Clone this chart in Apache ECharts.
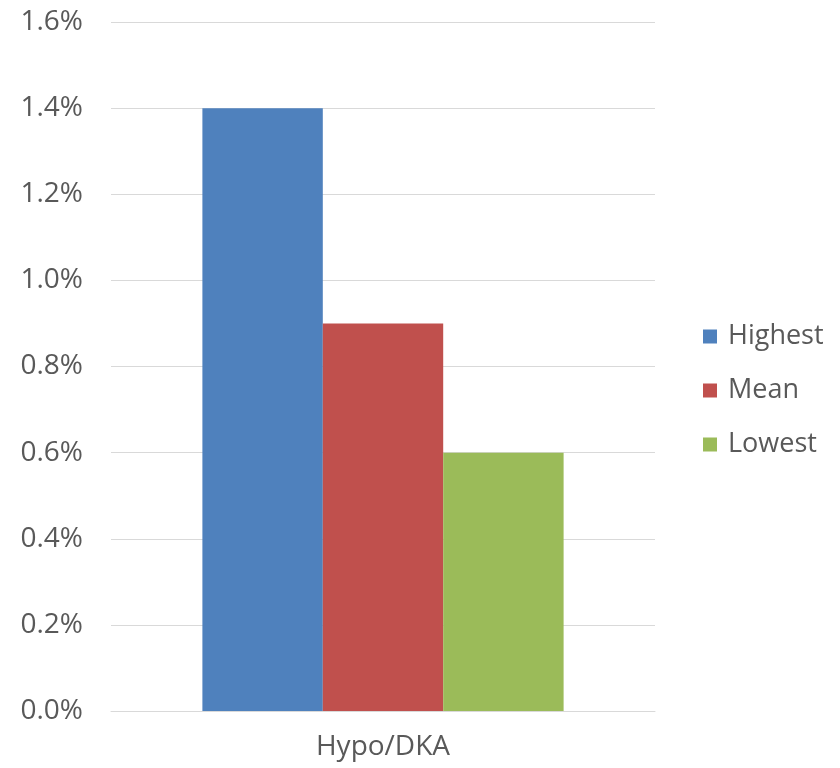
<!DOCTYPE html>
<html>
<head>
<meta charset="utf-8">
<script src="https://cdn.jsdelivr.net/npm/echarts@6/dist/echarts.min.js"></script>
<style>
  html, body { margin: 0; padding: 0; background: #fff; }
  #chart { width: 840px; height: 768px; }
</style>
</head>
<body>
<div id="chart"></div>
<script>
var categories = ['Hypo/DKA'];
var highest = [0.014];
var mean = [0.009];
var lowest = [0.006];
var seriesNames = ['Highest', 'Mean', 'Lowest'];
var colors = ['#4F81BD', '#C0504D', '#9BBB59'];

var dom = document.getElementById('chart');
var myChart = echarts.init(dom);
var fontFamily = '"Open Sans", "Liberation Sans", sans-serif';

var option = {
    animation: false,
    color: colors,
    textStyle: { fontFamily: fontFamily },
    grid: { left: 111, right: 185, top: 22, bottom: 57 },
    legend: {
        orient: 'vertical',
        left: 698,
        top: 318,
        itemWidth: 14,
        itemHeight: 14,
        itemGap: 27,
        icon: 'rect',
        data: seriesNames,
        textStyle: { fontSize: 27, color: '#595959', fontFamily: fontFamily, padding: [0, 0, 0, 6] }
    },
    xAxis: {
        type: 'category',
        data: categories,
        axisLine: { lineStyle: { color: '#D9D9D9', width: 1 } },
        axisTick: { show: false },
        axisLabel: { fontSize: 28, color: '#595959', margin: 22 }
    },
    yAxis: {
        type: 'value',
        min: 0,
        max: 0.016,
        interval: 0.002,
        axisLine: { show: false },
        axisTick: { show: false },
        splitLine: { lineStyle: { color: '#D9D9D9', width: 1 } },
        axisLabel: {
            fontSize: 28,
            color: '#595959',
            margin: 28,
            formatter: function (v) { return (v * 100).toFixed(1) + '%'; }
        }
    },
    series: [
        { name: seriesNames[0], type: 'bar', data: highest, barGap: '0%', barCategoryGap: '33.6%' },
        { name: seriesNames[1], type: 'bar', data: mean, barGap: '0%', barCategoryGap: '33.6%' },
        { name: seriesNames[2], type: 'bar', data: lowest, barGap: '0%', barCategoryGap: '33.6%' }
    ]
};
myChart.setOption(option, true);
</script>
</body>
</html>
